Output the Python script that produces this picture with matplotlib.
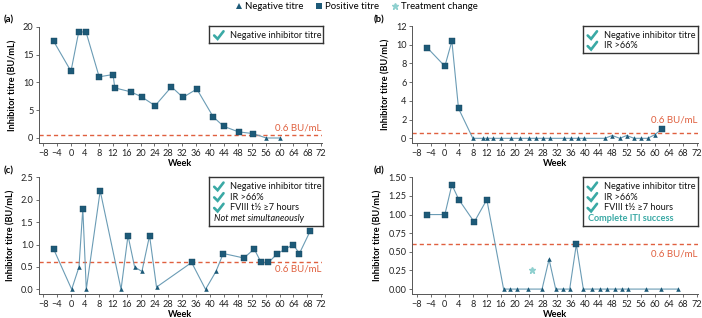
import matplotlib
matplotlib.use("Agg")
import matplotlib.pyplot as plt
from matplotlib.lines import Line2D

plt.rcParams['font.family'] = ['Lato', 'DejaVu Sans']

# ---- data (weeks, titre in BU/mL, positive flag) ----
a_weeks = [-5, 0, 2.2, 4.3, 8.1, 12.1, 12.6, 17.2, 20.3, 24.2, 28.9, 32.2, 36.2, 40.9, 43.9, 48.2, 52.3, 56.2, 60.2]
a_titre = [17.4, 12.0, 19.0, 19.1, 11.0, 11.4, 9.0, 8.3, 7.4, 5.8, 9.2, 7.3, 8.8, 3.8, 2.1, 1.1, 0.8, 0.0, 0.0]
a_pos = [1] * 17 + [0, 0]

b_weeks = [-5.1, 0, 2.0, 3.9, 8.0, 10.9, 12.0, 13.8, 16.0, 19.0, 21.4, 24.1, 26.2, 28.1, 30.2, 34.0, 36.0,
           38.0, 39.8, 45.7, 47.9, 50.0, 52.0, 54.1, 56.0, 58.0, 60.1, 62.1]
b_titre = [9.7, 7.7, 10.4, 3.2] + [0.0] * 16 + [0.3, 0.0, 0.3, 0.0, 0.0, 0.0, 0.4, 1.0]
b_pos = [1, 1, 1, 1] + [0] * 23 + [1]

c_weeks = [-5, 0.2, 2.3, 3.4, 4.4, 8.4, 14.4, 16.4, 18.3, 20.4, 22.6, 24.6, 34.7, 38.7, 41.7, 43.8,
           49.7, 52.7, 54.7, 56.8, 59.4, 61.7, 63.9, 65.7, 68.8]
c_titre = [0.9, 0.0, 0.5, 1.8, 0.0, 2.2, 0.0, 1.2, 0.5, 0.4, 1.2, 0.05, 0.6, 0.0, 0.4, 0.8,
           0.7, 0.9, 0.6, 0.6, 0.8, 0.9, 1.0, 0.8, 1.3]
c_pos = [1, 0, 0, 1, 0, 1, 0, 1, 0, 0, 1, 0, 1, 0, 0, 1, 1, 1, 1, 1, 1, 1, 1, 1, 1]

d_weeks = [-5, 0, 2, 4, 8.4, 12, 16.8, 18.5, 20.6, 23.9, 27.8, 29.8, 31.7, 33.7, 35.7, 37.6, 39.6,
           42.2, 44.5, 46.5, 48.8, 50.6, 52.5, 57.5, 61.8, 66.7]
d_titre = [1.0, 1.0, 1.4, 1.2, 0.9, 1.2, 0, 0, 0, 0, 0, 0.4, 0, 0, 0, 0.6, 0, 0, 0, 0, 0, 0, 0, 0, 0, 0]
d_pos = [1, 1, 1, 1, 1, 1] + [0] * 9 + [1] + [0] * 10
d_change_week = [25.0]
d_change_titre = [0.25]

x_ticks = list(range(-8, 73, 4))
threshold = 0.6

NAVY = "#1d5a78"
LINE = "#6b9cb5"
TEAL = "#3aa9a5"
RED = "#e0603f"
CHANGE = "#8fd0cf"
GREY = "#555555"

W, H = 702, 318
fs = 6.6


def px_axes(fig, left, right, top, bottom):
    return fig.add_axes([left / W, 1 - bottom / H, (right - left) / W, (bottom - top) / H])


def draw_panel(ax, weeks, titre, pos, ylim, yticks, ytick_fmt, label_dy, xlim):
    ax.plot(weeks, titre, color=LINE, lw=0.8, zorder=2)
    pw = [w for w, p in zip(weeks, pos) if p]
    pt = [t for t, p in zip(titre, pos) if p]
    nw = [w for w, p in zip(weeks, pos) if not p]
    nt = [t for t, p in zip(titre, pos) if not p]
    ax.plot(pw, pt, ls="none", marker="s", ms=4.6, color=NAVY, mec="#16465e", mew=0.3, zorder=3)
    ax.plot(nw, nt, ls="none", marker="^", ms=3.3, color=NAVY, mew=0, zorder=3)
    ax.axhline(threshold, color=RED, ls=(0, (3, 2.2)), lw=1.0, zorder=1)
    ax.set_xlim(*xlim)
    ax.set_ylim(*ylim)
    ax.set_xticks(x_ticks)
    ax.set_yticks(yticks)
    ax.set_yticklabels([ytick_fmt.format(v) for v in yticks])
    ax.tick_params(labelsize=fs, length=2.5, width=0.6, color=GREY, pad=1.5, labelcolor="#222222")
    for s in ["top", "right"]:
        ax.spines[s].set_visible(False)
    for s in ["left", "bottom"]:
        ax.spines[s].set_color(GREY)
        ax.spines[s].set_linewidth(0.7)
    ax.set_ylabel("Inhibitor titre (BU/mL)", fontsize=fs, fontweight="bold", labelpad=4)
    ax.set_xlabel("Week", fontsize=fs, fontweight="bold", labelpad=1)
    ax.annotate("0.6 BU/mL", xy=(0.997, threshold), xycoords=ax.get_yaxis_transform(),
                xytext=(0, label_dy), textcoords="offset pixels", color=RED, fontsize=fs + 0.4,
                ha="right", va="center")


def check_box(fig, left, right, top, lines, extra=None, extra_style=None):
    n = len(lines) + (1 if extra else 0)
    row = 10.6
    bottom = top + 5 + row * n + 1
    bx = fig.add_axes([left / W, 1 - bottom / H, (right - left) / W, (bottom - top) / H])
    bx.set_xlim(0, right - left)
    bx.set_ylim(bottom - top, 0)
    bx.set_xticks([])
    bx.set_yticks([])
    for s in bx.spines.values():
        s.set_color("#333333")
        s.set_linewidth(1.0)
    bx.patch.set_facecolor("white")
    for i, txt in enumerate(lines):
        y = 4 + row * (i + 0.5)
        # tick drawn as a short polyline
        bx.plot([5.2, 8.6, 14.5], [y + 0.2, y + 3.6, y - 4.0], color=TEAL, lw=1.9,
                solid_capstyle="round", solid_joinstyle="miter")
        bx.text(21, y, txt, fontsize=fs, va="center", ha="left", color="#111111")
    if extra:
        y = 4 + row * (len(lines) + 0.5)
        if extra_style == "italic":
            bx.text(5, y, extra, fontsize=fs, va="center", ha="left", style="italic", color="#111111")
        else:
            bx.text(5, y, extra, fontsize=fs, va="center", ha="left", color=TEAL, fontweight="bold")


fig = plt.figure(figsize=(W / 100, H / 100), dpi=100)

xa = (-9.2, 72.2)
xb = (-9.4, 72.4)

ax_a = px_axes(fig, 39, 322, 26.7, 143)
draw_panel(ax_a, a_weeks, a_titre, a_pos, (-0.9, 20), [0, 5, 10, 15, 20], "{:.0f}", 7, xa)
ax_b = px_axes(fig, 412, 698, 26, 143)
draw_panel(ax_b, b_weeks, b_titre, b_pos, (-0.5, 12), [0, 2, 4, 6, 8, 10, 12], "{:.0f}", 13, xb)
ax_c = px_axes(fig, 39, 322, 177.3, 294.3)
draw_panel(ax_c, c_weeks, c_titre, c_pos, (-0.11, 2.5), [0, 0.5, 1.0, 1.5, 2.0, 2.5], "{:.1f}", -7, xa)
ax_d = px_axes(fig, 412, 698, 177.3, 294.3)
draw_panel(ax_d, d_weeks, d_titre, d_pos, (-0.07, 1.5), [0, 0.25, 0.5, 0.75, 1.0, 1.25, 1.5], "{:.2f}", -10, xb)
ax_d.plot(d_change_week, d_change_titre, ls="none", marker="*", ms=4.5, color=CHANGE, mec=CHANGE, zorder=3)

check_box(fig, 209, 322.5, 26, ["Negative inhibitor titre"])
check_box(fig, 582.5, 698, 26, ["Negative inhibitor titre", "IR >66%"])
check_box(fig, 209, 322.5, 177.3, ["Negative inhibitor titre", "IR >66%", "FVIII t\u00bd \u22657 hours"],
          "Not met simultaneously", "italic")
check_box(fig, 582.5, 698, 177.3, ["Negative inhibitor titre", "IR >66%", "FVIII t\u00bd \u22657 hours"],
          "Complete ITI success", "teal")

for lab, x, y in [("(a)", 4, 20), ("(b)", 374, 20), ("(c)", 4, 171), ("(d)", 374, 171)]:
    fig.text(x / W, 1 - y / H, lab, fontsize=fs + 0.3, fontweight="bold", ha="left", va="center")

handles = [
    Line2D([], [], ls="none", marker="^", ms=3.8, color=NAVY, mew=0),
    Line2D([], [], ls="none", marker="s", ms=4.4, color=NAVY, mew=0),
    Line2D([], [], ls="none", marker="*", ms=4.5, color=CHANGE),
]
fig.legend(handles, ["Negative titre", "Positive titre", "Treatment change"], loc="center",
           bbox_to_anchor=(356 / W, 1 - 6.5 / H), ncol=3, frameon=False, fontsize=fs + 0.3,
           handletextpad=0.1, columnspacing=1.2, handlelength=1.0, borderpad=0)

fig.savefig("out.png", dpi=100)
